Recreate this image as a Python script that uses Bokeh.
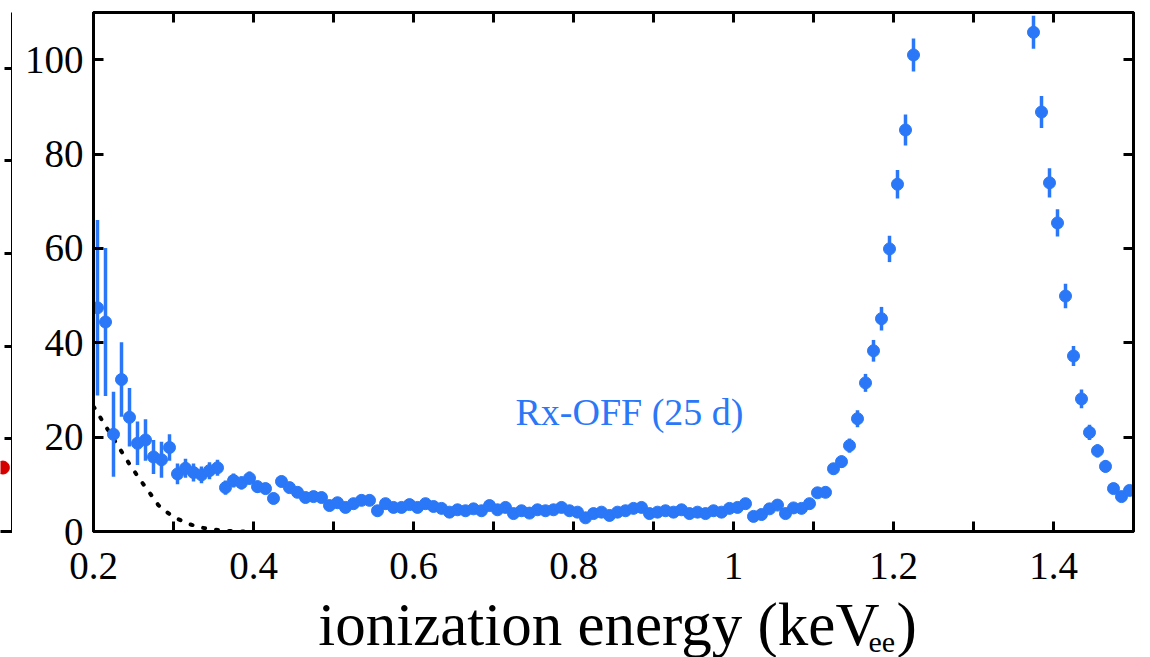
from bokeh.plotting import figure
from bokeh.models import Range1d, LinearAxis, FixedTicker, Label, ColumnDataSource, CustomJSTickFormatter
from bokeh.layouts import row, column
from bokeh.embed import file_html
from bokeh.resources import INLINE
import pandas as pd

# ---- data ----
energy = [
    0.205, 0.215, 0.225, 0.235, 0.245, 0.255, 0.265, 0.275, 0.285, 0.295,
    0.305, 0.315, 0.325, 0.335, 0.345, 0.355, 0.365, 0.375, 0.385, 0.395,
    0.405, 0.415, 0.425, 0.435, 0.445, 0.455, 0.465, 0.475, 0.485, 0.495,
    0.505, 0.515, 0.525, 0.535, 0.545, 0.555, 0.565, 0.575, 0.585, 0.595,
    0.605, 0.615, 0.625, 0.635, 0.645, 0.655, 0.665, 0.675, 0.685, 0.695,
    0.705, 0.715, 0.725, 0.735, 0.745, 0.755, 0.765, 0.775, 0.785, 0.795,
    0.805, 0.815, 0.825, 0.835, 0.845, 0.855, 0.865, 0.875, 0.885, 0.895,
    0.905, 0.915, 0.925, 0.935, 0.945, 0.955, 0.965, 0.975, 0.985, 0.995,
    1.005, 1.015, 1.025, 1.035, 1.045, 1.055, 1.065, 1.075, 1.085, 1.095,
    1.105, 1.115, 1.125, 1.135, 1.145, 1.155, 1.165, 1.175, 1.185, 1.195,
    1.205, 1.215, 1.225,
    1.375, 1.385, 1.395, 1.405, 1.415, 1.425, 1.435, 1.445, 1.455, 1.465,
    1.475, 1.485, 1.495,
]
counts = [
    47.4, 44.4, 20.6, 32.2, 24.2, 18.7, 19.4, 15.8, 15.2, 17.8,
    12.2, 13.4, 12.5, 12.0, 12.9, 13.5, 9.3, 10.8, 10.3, 11.3,
    9.5, 9.1, 7.0, 10.6, 9.3, 8.3, 7.2, 7.4, 7.2, 5.5,
    6.1, 5.1, 5.9, 6.6, 6.6, 4.4, 5.9, 5.1, 5.1, 5.7,
    5.1, 5.9, 5.3, 4.9, 4.1, 4.6, 4.4, 4.8, 4.4, 5.5,
    4.6, 5.1, 3.8, 4.4, 3.9, 4.6, 4.4, 4.6, 5.1, 4.4,
    4.1, 2.9, 3.8, 4.1, 3.4, 4.1, 4.4, 4.9, 5.1, 3.8,
    4.1, 4.4, 4.1, 4.6, 3.8, 4.1, 3.8, 4.4, 4.1, 4.9,
    5.1, 5.9, 3.2, 3.6, 4.8, 5.6, 3.8, 5.0, 4.9, 5.9,
    8.2, 8.3, 13.3, 14.8, 18.2, 23.9, 31.5, 38.3, 45.1, 59.9,
    73.6, 85.1, 101.0,
    105.8, 88.9, 73.9, 65.4, 49.9, 37.2, 28.1, 21.0, 17.1, 13.8,
    9.1, 7.4, 8.7,
]
errors = [
    18.6, 15.7, 9.0, 7.9, 6.2, 4.6, 4.4, 3.6, 3.8, 2.8,
    2.2, 2.0, 1.9, 1.8, 1.8, 1.7, 1.5, 1.5, 1.4, 1.4,
    1.3, 1.2, 1.2, 1.2, 1.1, 1.1, 1.0, 1.0, 1.0, 0.9,
    0.9, 0.9, 0.9, 0.9, 0.9, 0.8, 0.8, 0.8, 0.8, 0.8,
    0.8, 0.8, 0.8, 0.7, 0.7, 0.7, 0.7, 0.7, 0.7, 0.7,
    0.7, 0.7, 0.7, 0.7, 0.7, 0.7, 0.7, 0.7, 0.7, 0.7,
    0.7, 0.6, 0.7, 0.7, 0.7, 0.7, 0.7, 0.7, 0.7, 0.7,
    0.7, 0.7, 0.7, 0.7, 0.7, 0.7, 0.7, 0.7, 0.7, 0.7,
    0.7, 0.8, 0.6, 0.7, 0.7, 0.8, 0.7, 0.8, 0.8, 0.8,
    1.0, 1.0, 1.2, 1.3, 1.5, 1.8, 1.9, 2.3, 2.5, 2.8,
    3.0, 3.3, 3.5,
    3.5, 3.4, 3.1, 2.9, 2.6, 2.1, 2.0, 1.6, 1.4, 1.3,
    1.1, 1.0, 1.0,
]
bkg_energy = [0.200, 0.211, 0.221, 0.236, 0.246, 0.259, 0.271, 0.281, 0.294,
              0.305, 0.319, 0.334, 0.350, 0.367, 0.380, 0.400]
bkg_counts = [26.5, 23.5, 20.7, 16.7, 14.0, 10.8, 8.0, 5.6, 3.8,
              2.7, 1.6, 0.85, 0.4, 0.15, 0.0, 0.0]

x_major = [0.2, 0.4, 0.6, 0.8, 1.0, 1.2, 1.4]
x_minor = [0.3, 0.5, 0.7, 0.9, 1.1, 1.3, 1.5]
y_major = [0, 20, 40, 60, 80, 100]

# neighbouring (cropped) panel on the left
side_x = [0.2]
side_y = [13.8]

BLUE = "#2a78f7"
FONT = "Liberation Serif"

df = pd.DataFrame({"x": energy, "y": counts, "e": errors})
df["lo"] = df["y"] - df["e"]
df["hi"] = df["y"] + df["e"]
src = ColumnDataSource(df)

p = figure(width=1138, height=600, x_range=Range1d(0.2, 1.5), y_range=Range1d(0, 110),
           output_backend="svg", toolbar_location=None,
           min_border_left=81, min_border_right=17, min_border_top=12, min_border_bottom=69)
p.grid.visible = False
p.outline_line_color = "black"
p.outline_line_width = 3
p.background_fill_color = "white"
p.border_fill_color = "white"

blank = CustomJSTickFormatter(code="return ''")

def style_axis(ax, ticker, labels=True):
    ax.ticker = ticker
    ax.axis_line_width = 3
    ax.axis_line_color = "black"
    ax.major_tick_in = 10
    ax.major_tick_out = 0
    ax.minor_tick_in = 10
    ax.minor_tick_out = 0
    ax.major_tick_line_width = 3
    ax.minor_tick_line_width = 3
    ax.major_label_text_font = FONT
    ax.major_label_text_font_size = "39px"
    ax.major_label_text_color = "black"
    if not labels:
        ax.formatter = blank

xt = FixedTicker(ticks=x_major, minor_ticks=x_minor)
yt = FixedTicker(ticks=y_major, minor_ticks=[])

style_axis(p.xaxis[0], xt)
p.xaxis[0].major_label_overrides = {1: "1"}
p.xaxis[0].major_label_standoff = 21
style_axis(p.yaxis[0], yt)
p.yaxis[0].major_label_standoff = 10

top = LinearAxis()
style_axis(top, FixedTicker(ticks=x_major, minor_ticks=x_minor), labels=False)
p.add_layout(top, "above")
right = LinearAxis()
style_axis(right, FixedTicker(ticks=y_major, minor_ticks=[]), labels=False)
p.add_layout(right, "right")

# background (dotted) curve
p.line(bkg_energy, bkg_counts, line_color="black", line_width=4, line_dash="2 11", line_cap="round")

# data with error bars
p.segment(x0="x", y0="lo", x1="x", y1="hi", source=src, line_color=BLUE, line_width=3.5)
p.scatter("x", "y", source=src, size=12, marker="circle", fill_color=BLUE, line_color=BLUE)

p.add_layout(Label(x=0.7275, y=25.4, text="Rx-OFF (25 d)", text_font=FONT, text_font_size="38px",
                   text_color=BLUE, text_baseline="alphabetic", text_align="left"))

# cropped neighbour panel edge
q = figure(width=12, height=600, x_range=Range1d(0, 1), y_range=Range1d(0, 112),
           output_backend="svg", toolbar_location=None,
           min_border_left=0, min_border_right=0, min_border_top=0, min_border_bottom=63)
q.grid.visible = False
q.outline_line_color = None
q.xaxis.visible = False
q.yaxis.visible = False
qr = LinearAxis()
qr.ticker = FixedTicker(ticks=y_major, minor_ticks=[])
qr.formatter = blank
qr.axis_line_width = 3
qr.major_tick_in = 8
qr.major_tick_out = 0
qr.major_tick_line_width = 3
qr.major_label_standoff = 0
q.add_layout(qr, "right")
qb = LinearAxis()
qb.ticker = FixedTicker(ticks=[], minor_ticks=[])
qb.formatter = blank
qb.axis_line_width = 3
qb.major_label_standoff = 0
q.add_layout(qb, "below")
q.scatter(side_x, side_y, size=13, marker="circle", fill_color="#d40000", line_color="#d40000")

# x-axis title strip (pixel-like coordinates: x 0..1150, y 0..57 from bottom)
t = figure(width=1150, height=57, x_range=Range1d(0, 1150), y_range=Range1d(0, 57),
           output_backend="svg", toolbar_location=None, x_axis_type=None, y_axis_type=None,
           min_border_left=0, min_border_right=0, min_border_top=0, min_border_bottom=0)
t.grid.visible = False
t.outline_line_color = None
t.background_fill_color = "white"
t.border_fill_color = "white"
t.add_layout(Label(x=879, y=33, text="ionization energy (keV", text_font=FONT,
                   text_font_size="61px", text_color="black", text_align="right",
                   text_baseline="alphabetic"))
t.add_layout(Label(x=868, y=15, text="ee", text_font=FONT,
                   text_font_size="30px", text_color="black", text_align="left",
                   text_baseline="alphabetic"))
t.add_layout(Label(x=896, y=33, text=")", text_font=FONT,
                   text_font_size="61px", text_color="black", text_align="left",
                   text_baseline="alphabetic"))

layout = column(row(q, p), t, spacing=0)
open("out.html", "w").write(file_html(layout, INLINE))
